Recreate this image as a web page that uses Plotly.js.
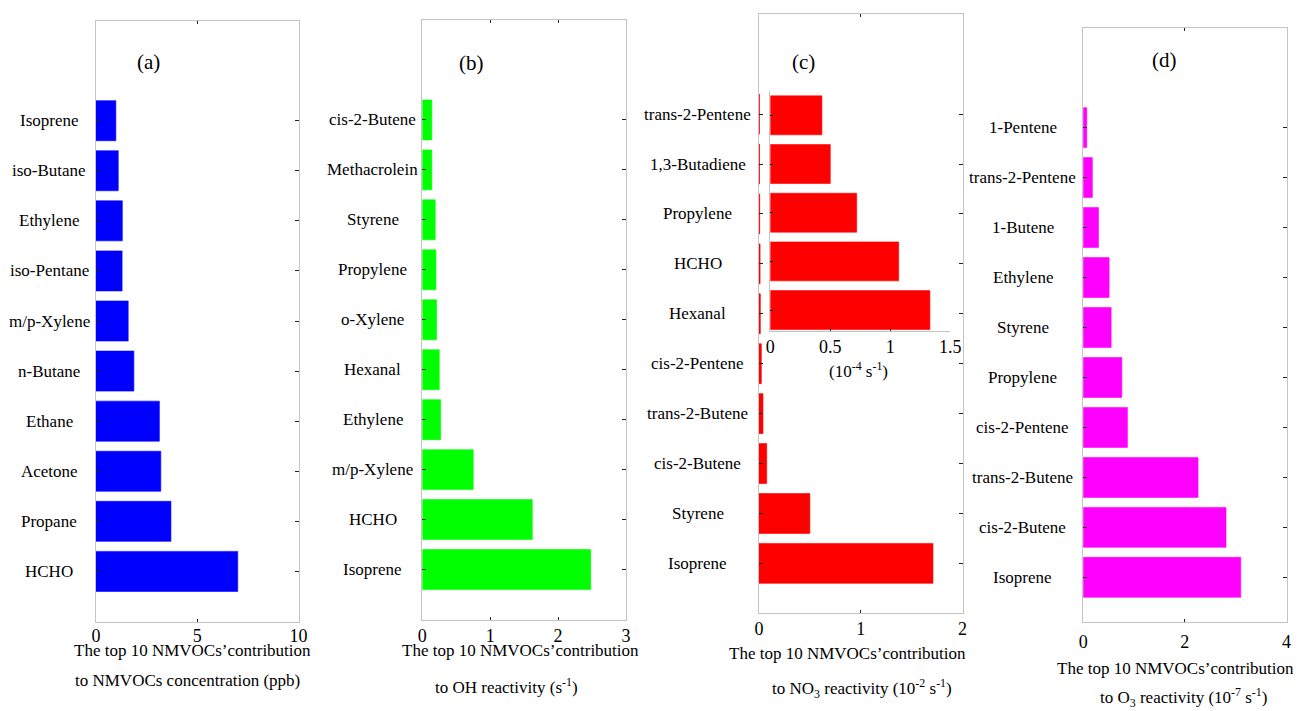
<!DOCTYPE html>
<html>
<head>
<meta charset="utf-8">
<script src="https://cdn.plot.ly/plotly-3.0.1.min.js"></script>
<style>html,body{margin:0;padding:0;background:#fff;}#chart{width:1297px;height:711px;}</style>
</head>
<body>
<div id="chart"></div>
<script>
// ---------- DATA (bottom to top) ----------
var namesA = ['HCHO','Propane','Acetone','Ethane','n-Butane','m/p-Xylene','iso-Pentane','Ethylene','iso-Butane','Isoprene'];
var valsA  = [7.0, 3.7, 3.2, 3.13, 1.87, 1.59, 1.29, 1.30, 1.10, 0.98];

var namesB = ['Isoprene','HCHO','m/p-Xylene','Ethylene','Hexanal','o-Xylene','Propylene','Styrene','Methacrolein','cis-2-Butene'];
var valsB  = [2.48, 1.62, 0.75, 0.27, 0.25, 0.21, 0.20, 0.19, 0.14, 0.14];

var namesC = ['Isoprene','Styrene','cis-2-Butene','trans-2-Butene','cis-2-Pentene','Hexanal','HCHO','Propylene','1,3-Butadiene','trans-2-Pentene'];
var valsC  = [1.71, 0.50, 0.076, 0.039, 0.023, 0.0133, 0.0107, 0.0072, 0.0050, 0.0043];

var namesCin = ['Hexanal','HCHO','Propylene','1,3-Butadiene','trans-2-Pentene'];
var valsCin  = [1.33, 1.07, 0.72, 0.50, 0.43];

var namesD = ['Isoprene','cis-2-Butene','trans-2-Butene','cis-2-Pentene','Propylene','Styrene','Ethylene','1-Butene','trans-2-Pentene','1-Pentene'];
var valsD  = [3.10, 2.81, 2.26, 0.87, 0.76, 0.55, 0.51, 0.30, 0.18, 0.07];

var ticksA = [0,5,10], ticksB = [0,1,2,3], ticksC = [0,1,2], ticksCin = [0,0.5,1,1.5], ticksD = [0,2,4];

var panelLabels = ['(a)','(b)','(c)','(d)'];
var titlesA = ['The top 10 NMVOCs\u2019contribution','to NMVOCs concentration (ppb)'];
var titlesB = ['The top 10 NMVOCs\u2019contribution','to OH reactivity (s<sup>-1</sup>)'];
var titlesC = ['The top 10 NMVOCs\u2019contribution','to NO<sub>3</sub> reactivity (10<sup>-2</sup> s<sup>-1</sup>)'];
var titlesD = ['The top 10 NMVOCs\u2019contribution','to O<sub>3</sub> reactivity (10<sup>-7</sup> s<sup>-1</sup>)'];
var insetTitle = '(10<sup>-4</sup> s<sup>-1</sup>)';

// ---------- LAYOUT HELPERS ----------
var W = 1297, H = 711;
var FONT = 'Liberation Serif, Times New Roman, serif';
function dx(a,b){return [a/W, b/W];}
function dy(top,bottom){return [1-bottom/H, 1-top/H];}

function bar(names, vals, color, xa, ya){
  return {type:'bar', orientation:'h', y:names, x:vals, xaxis:xa, yaxis:ya,
    width:0.8, marker:{color:color, line:{color:color, width:0.6}}, hoverinfo:'x+y', showlegend:false};
}
var traces = [
  bar(namesA, valsA, '#0000ff', 'x', 'y'),
  bar(namesB, valsB, '#00ff00', 'x2', 'y2'),
  bar(namesC, valsC, '#ff0000', 'x3', 'y3'),
  bar(namesD, valsD, '#ff00ff', 'x4', 'y4'),
  bar(namesCin, valsCin, '#ff0000', 'x5', 'y5')
];

function xax(domain, range, tv, anchor, standoff, mirror){
  return {domain:domain, range:range, tickvals:tv, ticktext:tv.map(String), anchor:anchor,
    showline:true, linecolor:'#c4c4c4', linewidth:1, mirror:mirror,
    ticks:'inside', ticklen:3, tickcolor:'#222', tickwidth:1,
    showgrid:false, zeroline:false, fixedrange:true,
    ticklabelstandoff:standoff,
    tickfont:{family:FONT, size:18, color:'#000'}};
}
function yax(domain, range, names, anchor, mirror){
  return {domain:domain, range:range, type:'category', categoryarray:names, categoryorder:'array',
    anchor:anchor, showline:true, linecolor:'#c4c4c4', linewidth:1, mirror:mirror,
    ticks:'inside', ticklen:4, tickcolor:'#222', tickwidth:1,
    showticklabels:false, showgrid:false, zeroline:false, fixedrange:true};
}

var layout = {
  width:W, height:H, margin:{l:0,r:0,t:0,b:0},
  paper_bgcolor:'#fff', plot_bgcolor:'rgba(0,0,0,0)',
  bargap:0.2, showlegend:false,
  font:{family:FONT, color:'#000'},
  xaxis:  xax(dx(96,298.5),  [0,10],  ticksA, 'y',  -2, 'ticks'),
  yaxis:  yax(dy(20.5,621.5), [-1,11], namesA, 'x', 'ticks'),
  xaxis2: xax(dx(422.3,626), [0,3],   ticksB, 'y2', 0, 'ticks'),
  yaxis2: yax(dy(20,619.5),  [-1,11], namesB, 'x2', 'ticks'),
  xaxis3: xax(dx(759,962.5), [0,2],   ticksC, 'y3', -1, 'ticks'),
  yaxis3: yax(dy(14.3,613.3),[-1,11], namesC, 'x3', 'ticks'),
  xaxis4: xax(dx(1083.2,1286.5),[0,4],ticksD, 'y4', 3, 'ticks'),
  yaxis4: yax(dy(27.7,622.3),[-0.9,11], namesD, 'x4', 'ticks'),
  xaxis5: xax(dx(770.3,950.3),[0,1.5], ticksCin, 'y5', -1, false),
  yaxis5: yax(dy(91,331),    [-0.43,4.5], namesCin, 'x5', false),
  annotations:[]
};

function addLabels(names, yref, cx){
  names.forEach(function(n){
    layout.annotations.push({x:cx/W, xref:'paper', y:n, yref:yref, text:n, showarrow:false,
      xanchor:'center', yanchor:'middle', font:{family:FONT, size:17, color:'#000'}});
  });
}
addLabels(namesA, 'y', 49);
addLabels(namesB, 'y2', 372.5);
addLabels(namesC, 'y3', 698);
addLabels(namesD, 'y4', 1022.5);

function addText(text, px, py, size){
  layout.annotations.push({x:px/W, xref:'paper', y:1-py/H, yref:'paper', text:text, showarrow:false,
    xanchor:'center', yanchor:'middle', font:{family:FONT, size:size, color:'#000'}});
}
addText(panelLabels[0], 148, 62, 21);
addText(panelLabels[1], 471, 63, 21);
addText(panelLabels[2], 803, 62, 21);
addText(panelLabels[3], 1164, 60, 21);

addText(titlesA[0], 192.5, 650, 17); addText(titlesA[1], 187.5, 680, 17);
addText(titlesB[0], 520, 650, 17);   addText(titlesB[1], 506, 686, 17);
addText(titlesC[0], 847.5, 653, 17); addText(titlesC[1], 861.7, 688, 17);
addText(titlesD[0], 1175, 668, 17);  addText(titlesD[1], 1183, 697, 17);
addText(insetTitle, 858, 370, 17);

Plotly.newPlot('chart', traces, layout, {displayModeBar:false, staticPlot:true});
</script>
</body>
</html>
